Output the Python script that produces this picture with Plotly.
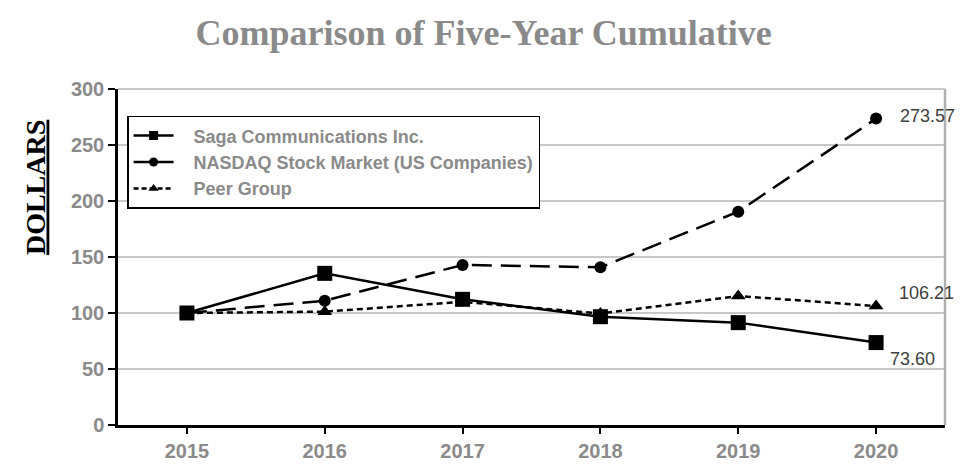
import plotly.graph_objects as go

years = [2015, 2016, 2017, 2018, 2019, 2020]
saga = [100, 135.4, 112.2, 96.7, 91.4, 73.60]
nasdaq = [100, 111.0, 142.9, 140.8, 190.5, 273.57]
peer = [100, 101.2, 110.0, 99.5, 115.2, 106.21]
y_ticks = [0, 50, 100, 150, 200, 250, 300]
end_labels = ["273.57", "106.21", "73.60"]
series_names = ["Saga Communications Inc.", "NASDAQ Stock Market (US Companies)", "Peer Group"]

fig = go.Figure()

# Data traces (not in legend)
fig.add_trace(go.Scatter(x=years, y=saga, mode="lines+markers", showlegend=False,
                         line=dict(color="black", width=2.5),
                         marker=dict(symbol="square", size=15, color="black")))
fig.add_trace(go.Scatter(x=years, y=nasdaq, mode="lines+markers", showlegend=False,
                         line=dict(color="black", width=2.5, dash="20px,9px"),
                         marker=dict(symbol="circle", size=12, color="black")))
fig.add_trace(go.Scatter(x=years, y=peer, mode="lines+markers", showlegend=False,
                         line=dict(color="black", width=2.5, dash="6px,4px"),
                         marker=dict(symbol="triangle-up", size=13, color="black")))

# Legend-only entries (styled as in the reference legend)
pad = "\u00a0\u00a0\u00a0"
fig.add_trace(go.Scatter(x=[None], y=[None], mode="lines+markers", name=pad + series_names[0],
                         line=dict(color="black", width=2.5),
                         marker=dict(symbol="square", size=9, color="black")))
fig.add_trace(go.Scatter(x=[None], y=[None], mode="lines+markers", name=pad + series_names[1],
                         line=dict(color="black", width=2.5),
                         marker=dict(symbol="circle", size=9, color="black")))
fig.add_trace(go.Scatter(x=[None], y=[None], mode="lines+markers", name=pad + series_names[2],
                         line=dict(color="black", width=2.5, dash="5px,3px"),
                         marker=dict(symbol="triangle-up", size=9, color="black")))

lab_font = dict(family="Liberation Sans, Arial", size=18, color="#404040")
fig.add_annotation(x=years[-1], y=nasdaq[-1], text=end_labels[0], showarrow=False,
                   xanchor="left", xshift=22, yshift=3, font=lab_font)
fig.add_annotation(x=years[-1], y=peer[-1], text=end_labels[1], showarrow=False,
                   xanchor="left", xshift=21, yshift=13, font=lab_font)
fig.add_annotation(x=years[-1], y=saga[-1], text=end_labels[2], showarrow=False,
                   xanchor="left", xshift=12, yshift=-16, font=lab_font)

# Y axis title (underlined, bold serif)
fig.add_annotation(xref="paper", yref="paper", x=-0.1, y=0.706, text="<u><b>DOLLARS</b></u>",
                   textangle=-90, showarrow=False, xanchor="center", yanchor="middle",
                   font=dict(family="Liberation Serif, Times New Roman", size=28, color="black"))

# Gray top/right frame
fig.add_shape(type="line", xref="paper", yref="paper", x0=1, x1=1, y0=0, y1=1,
              line=dict(color="#b0b0b0", width=2.5))
fig.add_shape(type="line", xref="paper", yref="paper", x0=0, x1=1, y0=1, y1=1,
              line=dict(color="#c8c8c8", width=2))

fig.update_layout(
    width=955, height=456,
    margin=dict(l=110, r=18, t=81, b=39, autoexpand=False),
    paper_bgcolor="white", plot_bgcolor="white",
    title=dict(text="<b>Comparison of Five-Year Cumulative</b>", x=0.498, xref="container",
               xanchor="center", y=1 - 24 / 456, yref="container", yanchor="middle",
               font=dict(family="Liberation Serif, Times New Roman", size=36, color="#8a8a8a")),
    legend=dict(x=0.011, y=0.92, xanchor="left", yanchor="top",
                bgcolor="white", bordercolor="black", borderwidth=1.5,
                font=dict(family="Liberation Sans, Arial", size=18, color="#8a8a8a", weight="bold"),
                tracegroupgap=0, itemwidth=40),
    xaxis=dict(range=[2014.5, 2020.5], tickvals=years, showgrid=False, zeroline=False,
               automargin=False,
               showline=True, linecolor="black", linewidth=2.5,
               ticks="outside", ticklen=6, tickcolor="black", tickwidth=1.5,
               tickfont=dict(family="Liberation Sans, Arial", size=20, color="#8a8a8a", weight="bold")),
    yaxis=dict(range=[0, 300], tickvals=y_ticks, showgrid=True, gridcolor="#c8c8c8", gridwidth=2,
               automargin=False,
               zeroline=False, showline=True, linecolor="black", linewidth=2.5,
               ticks="outside", ticklen=7, tickcolor="black", tickwidth=1.5,
               tickfont=dict(family="Liberation Sans, Arial", size=20, color="#8a8a8a", weight="bold")),
)

fig.write_html("out.html")
